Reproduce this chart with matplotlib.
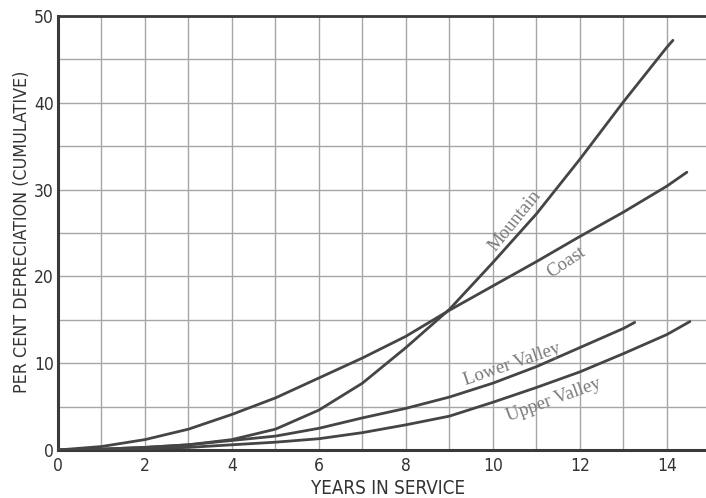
import numpy as np
import matplotlib
matplotlib.use("Agg")
from matplotlib import pyplot as plt
from matplotlib.ticker import MultipleLocator

# values (years in service -> cumulative % depreciation)
years_mountain = [0, 1, 2, 3, 4, 5, 6, 7, 8, 9, 10, 11, 12, 13, 14, 14.14]
mountain = [0, 0.1, 0.3, 0.6, 1.2, 2.4, 4.6, 7.7, 11.8, 16.2, 21.6, 27.2, 33.5, 40.1, 46.4, 47.2]

years_coast = [0, 1, 2, 3, 4, 5, 6, 7, 8, 9, 10, 11, 12, 13, 14, 14.46]
coast = [0, 0.4, 1.2, 2.4, 4.1, 6.0, 8.3, 10.6, 13.1, 16.1, 18.9, 21.7, 24.6, 27.4, 30.4, 32.0]

years_lower = [0, 1, 2, 3, 4, 5, 6, 7, 8, 9, 10, 11, 12, 13, 13.26]
lower_valley = [0, 0.1, 0.3, 0.6, 1.1, 1.6, 2.5, 3.7, 4.8, 6.1, 7.7, 9.6, 11.8, 14.0, 14.7]

years_upper = [0, 1, 2, 3, 4, 5, 6, 7, 8, 9, 10, 11, 12, 13, 14, 14.53]
upper_valley = [0, 0.05, 0.15, 0.3, 0.6, 0.9, 1.3, 2.0, 2.9, 3.9, 5.5, 7.2, 9.0, 11.1, 13.3, 14.8]

x_ticks = [0, 2, 4, 6, 8, 10, 12, 14]
y_ticks = [0, 10, 20, 30, 40, 50]

sans = ['DejaVu Sans']
serif = ['Liberation Serif', 'DejaVu Serif']

fig = plt.figure(figsize=(7.06, 4.98), dpi=100)
ax = fig.add_axes([58 / 706, 48 / 498, 648 / 706, 434 / 498])

line_col = "#454545"
for xs, ys in [(years_mountain, mountain), (years_coast, coast),
               (years_lower, lower_valley), (years_upper, upper_valley)]:
    ax.plot(xs, ys, color=line_col, lw=2.0, solid_capstyle="round", zorder=3)

ax.set_xlim(0, 14.9)
ax.set_ylim(0, 50)
ax.xaxis.set_minor_locator(MultipleLocator(1))
ax.yaxis.set_minor_locator(MultipleLocator(5))
ax.set_xticks(x_ticks)
ax.set_yticks(y_ticks)
ax.grid(True, which="both", color="#a6a6a6", lw=1.0, zorder=0)
ax.tick_params(which="both", length=0)
ax.tick_params(axis="x", pad=5, labelsize=12.5, colors="#333333")
ax.tick_params(axis="y", pad=3, labelsize=12.5, colors="#333333")
for lab in ax.get_xticklabels() + ax.get_yticklabels():
    lab.set_family(sans)
    lab.set_fontstretch("condensed")

ax.spines["right"].set_visible(False)
ax.spines["left"].set_linewidth(2.2)
ax.spines["bottom"].set_linewidth(2.2)
ax.spines["top"].set_linewidth(2.0)
for s in ["left", "bottom", "top"]:
    ax.spines[s].set_color("#3a3a3a")

fig.text(388 / 706, 1 - 488 / 498, "YEARS IN SERVICE", ha="center", va="center",
         fontsize=13.5, family=sans, fontstretch="condensed", color="#333333")
fig.text(22 / 706, 1 - 232 / 498, "PER CENT DEPRECIATION (CUMULATIVE)", ha="center",
         va="center", rotation=90, fontsize=12.8, family=sans, fontstretch="condensed",
         color="#333333")

# curve labels, placed in data coords
lab_col = "#7a7a7a"
ax.text(10.5, 26.4, "Mountain", rotation=51, ha="center", va="center",
        fontsize=13.5, family=serif, color=lab_col)
ax.text(11.7, 21.6, "Coast", rotation=34, ha="center", va="center",
        fontsize=13.5, family=serif, color=lab_col)
ax.text(10.45, 9.9, "Lower Valley", rotation=19, ha="center", va="center",
        fontsize=13.5, family=serif, color=lab_col)
ax.text(11.4, 5.8, "Upper Valley", rotation=20, ha="center", va="center",
        fontsize=13.5, family=serif, color=lab_col)

fig.savefig("out.png", dpi=100)
